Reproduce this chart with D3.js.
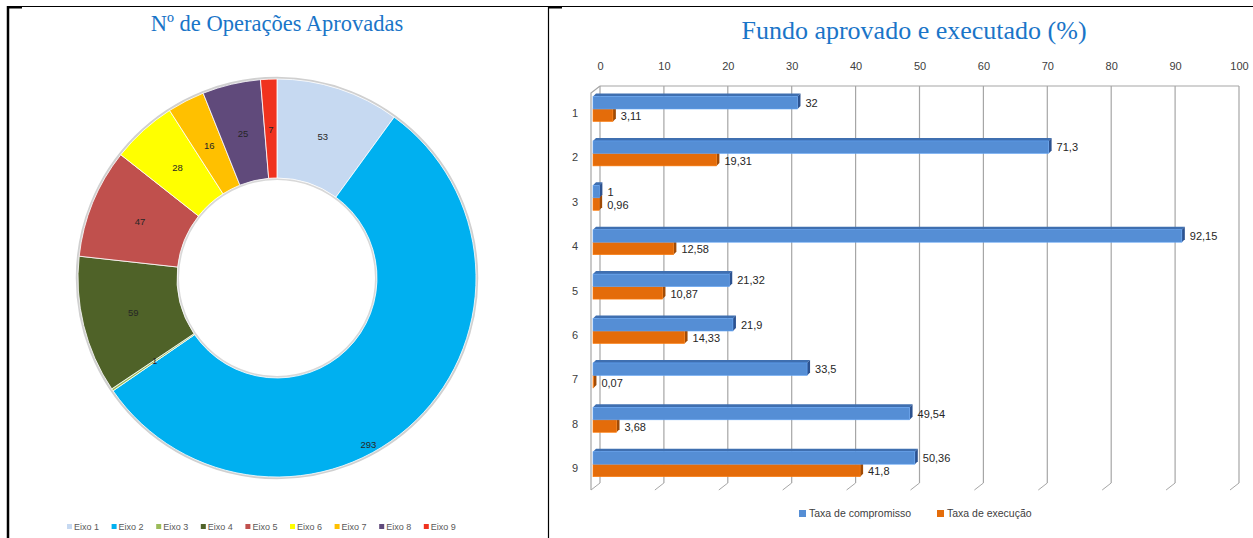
<!DOCTYPE html>
<html>
<head>
<meta charset="utf-8">
<script src="https://cdn.jsdelivr.net/npm/d3@7"></script>
<style>
  body { margin: 0; background: #fff; }
  svg { display: block; }
</style>
</head>
<body>
<svg id="chart"></svg>
<script>
(function () {
    const width = 1253, height = 538;

    // donut data
    const eixos = ['Eixo 1', 'Eixo 2', 'Eixo 3', 'Eixo 4', 'Eixo 5', 'Eixo 6', 'Eixo 7', 'Eixo 8', 'Eixo 9'];
    const operacoes = [53, 293, 1, 59, 47, 28, 16, 25, 7];
    const eixoColors = ['#c6d9f1', '#00b0f0', '#9bbb59', '#4f6228', '#c0504d', '#ffff00', '#ffc000', '#604a7b', '#f0321e'];

    // bar data
    const rows = ['1', '2', '3', '4', '5', '6', '7', '8', '9'];
    const compromisso = [32, 71.3, 1, 92.15, 21.32, 21.9, 33.5, 49.54, 50.36];
    const execucao = [3.11, 19.31, 0.96, 12.58, 10.87, 14.33, 0.07, 3.68, 41.8];
    const xTicks = [0, 10, 20, 30, 40, 50, 60, 70, 80, 90, 100];
    const seriesNames = ['Taxa de compromisso', 'Taxa de execução'];

    const svg = d3.select('#chart')
        .attr('width', width)
        .attr('height', height);

    const fmt = v => String(v).replace('.', ',');

    // frame lines
    svg.append('line').attr('x1', 7).attr('x2', width).attr('y1', 6.5).attr('y2', 6.5)
        .attr('stroke', '#000').attr('stroke-width', 1.2);
    svg.append('line').attr('x1', 8).attr('x2', 8).attr('y1', 6).attr('y2', height)
        .attr('stroke', '#000').attr('stroke-width', 2.5);
    svg.append('line').attr('x1', 548.5).attr('x2', 548.5).attr('y1', 6).attr('y2', height)
        .attr('stroke', '#000').attr('stroke-width', 1.2);
    svg.append('rect').attr('x', 7).attr('y', 6).attr('width', 15).attr('height', 2.5).attr('fill', '#000');
    svg.append('rect').attr('x', 548).attr('y', 6).attr('width', 14).attr('height', 2.5).attr('fill', '#000');

    // ---------- donut ----------
    const cx = 277, cy = 278, rOuter = 199, rInner = 100;
    const gPie = svg.append('g').attr('transform', `translate(${cx},${cy})`);

    svg.append('text')
        .attr('x', cx).attr('y', 31)
        .attr('text-anchor', 'middle')
        .style('font-family', '"Liberation Serif", serif')
        .style('font-size', '22.5px')
        .style('fill', '#1a75c8')
        .text('Nº de Operações Aprovadas');

    const pie = d3.pie().sort(null).value(d => d)(operacoes);
    const arc = d3.arc().innerRadius(rInner).outerRadius(rOuter);

    gPie.append('circle').attr('r', rOuter + 1).attr('fill', 'none')
        .attr('stroke', '#d0d0d0').attr('stroke-width', 2.5);
    gPie.append('circle').attr('r', rInner - 1).attr('fill', 'none')
        .attr('stroke', '#d8d8d8').attr('stroke-width', 2);

    gPie.selectAll('path.slice')
        .data(pie)
        .enter()
        .append('path')
        .attr('class', 'slice')
        .attr('d', arc)
        .attr('fill', (d, i) => eixoColors[i])
        .attr('stroke', '#fff')
        .attr('stroke-width', 0.8);

    const labelArc = d3.arc().innerRadius(148).outerRadius(148);
    gPie.selectAll('text.val')
        .data(pie)
        .enter()
        .append('text')
        .attr('class', 'val')
        .attr('transform', (d, i) => {
            let c = labelArc.centroid(d);
            if (i === 1) {
                // excel best-fit placement for the big slice
                const a = (d.startAngle + d.endAngle) / 2 + 0.27;
                c = [Math.sin(a) * 190, -Math.cos(a) * 190];
            }
            return `translate(${c[0]},${c[1] + 3})`;
        })
        .attr('text-anchor', 'middle')
        .style('font-family', '"Liberation Sans", sans-serif')
        .style('font-size', '9.5px')
        .style('fill', '#262626')
        .text(d => d.data);

    const legL = svg.append('g');
    const legItems = legL.selectAll('g')
        .data(eixos)
        .enter()
        .append('g')
        .attr('transform', (d, i) => `translate(${67 + i * 44.6},529)`);
    legItems.append('rect').attr('x', 0).attr('y', -5).attr('width', 5).attr('height', 5)
        .attr('fill', (d, i) => eixoColors[i]);
    legItems.append('text').attr('x', 7).attr('y', 0.5)
        .style('font-family', '"Liberation Sans", sans-serif')
        .style('font-size', '9px')
        .style('fill', '#595959')
        .text(d => d);

    // ---------- 3D bar chart ----------
    const depth = 7;
    const xb = d3.scaleLinear().domain([0, 100]).range([600, 1239]);
    const xf = v => xb(v) - depth;
    const backTop = 86, backBottom = 483;

    svg.append('text')
        .attr('x', 914).attr('y', 39)
        .attr('text-anchor', 'middle')
        .style('font-family', '"Liberation Serif", serif')
        .style('font-size', '26px')
        .style('fill', '#1a75c8')
        .text('Fundo aprovado e executado (%)');

    const axisG = svg.append('g').attr('transform', `translate(0,${backTop})`);
    const axis = d3.axisTop(xb).tickValues(xTicks).tickSize(0).tickPadding(16);
    axisG.call(axis);
    axisG.select('.domain').remove();
    axisG.selectAll('text')
        .style('font-family', '"Liberation Sans", sans-serif')
        .style('font-size', '11px')
        .style('fill', '#404040');

    const grid = svg.append('g');
    const gridColor = '#a6a6a6';
    // back gridlines
    grid.selectAll('line.gv')
        .data(xTicks)
        .enter()
        .append('line')
        .attr('class', 'gv')
        .attr('x1', d => xb(d)).attr('x2', d => xb(d))
        .attr('y1', backTop).attr('y2', backBottom)
        .attr('stroke', gridColor).attr('stroke-width', 1.2);
    // floor diagonals
    grid.selectAll('line.fd')
        .data(xTicks)
        .enter()
        .append('line')
        .attr('class', 'fd')
        .attr('x1', d => xb(d)).attr('x2', d => xb(d) - depth - 2)
        .attr('y1', backBottom).attr('y2', backBottom + depth)
        .attr('stroke', gridColor).attr('stroke-width', 1);
    grid.append('line')
        .attr('x1', xb(0)).attr('x2', xb(100))
        .attr('y1', backTop).attr('y2', backTop)
        .attr('stroke', gridColor).attr('stroke-width', 1.2);
    // left wall
    grid.append('path')
        .attr('d', `M${xb(0)},${backTop} L${xb(0) - depth - 2},${backTop + depth} L${xb(0) - depth - 2},${backBottom + depth}`)
        .attr('fill', 'none')
        .attr('stroke', gridColor).attr('stroke-width', 1.2);

    const y = d3.scaleBand().domain(rows).range([86.8, 86.8 + 9 * 44.4]);
    const barH = 12.5, bd = 3;

    svg.append('g').selectAll('text')
        .data(rows)
        .enter()
        .append('text')
        .attr('x', 575).attr('y', d => y(d) + y.bandwidth() / 2 + 8)
        .attr('text-anchor', 'middle')
        .style('font-family', '"Liberation Sans", sans-serif')
        .style('font-size', '11px')
        .style('fill', '#404040')
        .text(d => d);

    function drawBar(g, v, y0, front, top, side) {
        const x0 = xf(0), x1 = xf(v);
        g.append('path')
            .attr('d', `M${x0},${y0} L${x0 + bd},${y0 - bd} L${x1 + bd},${y0 - bd} L${x1},${y0} Z`)
            .attr('fill', top);
        g.append('path')
            .attr('d', `M${x1},${y0} L${x1 + bd},${y0 - bd} L${x1 + bd},${y0 + barH - bd} L${x1},${y0 + barH} Z`)
            .attr('fill', side);
        g.append('rect')
            .attr('x', x0).attr('y', y0)
            .attr('width', Math.max(0, x1 - x0)).attr('height', barH)
            .attr('fill', front)
            .attr('stroke', d3.color(front).brighter(0.4)).attr('stroke-width', 0.6);
    }

    const bars = svg.append('g');
    rows.forEach((r, i) => {
        const c = y(r) + y.bandwidth() / 2;
        drawBar(bars, execucao[i], c, '#e46c0a', '#b95808', '#a04b06');
        drawBar(bars, compromisso[i], c - barH, '#558ed5', '#3f6fb0', '#2c5290');
    });

    const labels = svg.append('g')
        .style('font-family', '"Liberation Sans", sans-serif')
        .style('font-size', '11px')
        .style('fill', '#262626');
    labels.selectAll('text.c')
        .data(compromisso)
        .enter()
        .append('text')
        .attr('class', 'c')
        .attr('x', d => xf(d) + bd + 5)
        .attr('y', (d, i) => y(rows[i]) + y.bandwidth() / 2 - barH / 2 + 4)
        .text(d => fmt(d));
    labels.selectAll('text.e')
        .data(execucao)
        .enter()
        .append('text')
        .attr('class', 'e')
        .attr('x', d => xf(d) + bd + 5)
        .attr('y', (d, i) => y(rows[i]) + y.bandwidth() / 2 + barH / 2 + 5)
        .text(d => fmt(d));

    const legR = svg.append('g').selectAll('g')
        .data(seriesNames)
        .enter()
        .append('g')
        .attr('transform', (d, i) => `translate(${799 + i * 138},517)`);
    legR.append('rect').attr('x', 0).attr('y', -7).attr('width', 7).attr('height', 7)
        .attr('fill', (d, i) => i === 0 ? '#558ed5' : '#e46c0a');
    legR.append('text').attr('x', 10).attr('y', 0)
        .style('font-family', '"Liberation Sans", sans-serif')
        .style('font-size', '10.5px')
        .style('fill', '#404040')
        .text(d => d);
})();
</script>
</body>
</html>
